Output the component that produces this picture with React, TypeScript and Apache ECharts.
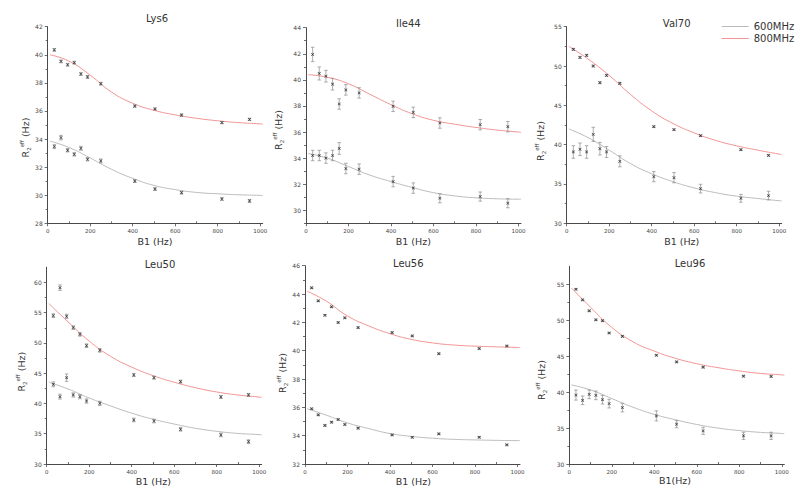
import React, { useEffect, useRef } from 'react';
import * as echarts from 'echarts';

// ---------- data ----------
const B1 = [31.25, 62.5, 93.75, 125, 156.25, 187.5, 250, 410, 505, 630, 820, 950];
const FIT_X = [10, 100, 200, 300, 400, 500, 600, 700, 800, 900, 1000, 1012];

const LYS6_600 = [33.46, 34.10, 33.20, 32.91, 33.34, 32.56, 32.44, 31.01, 30.44, 30.18, 29.73, 29.59];
const LYS6_600_ERR = [0.14, 0.16, 0.12, 0.12, 0.14, 0.12, 0.14, 0.1, 0.1, 0.1, 0.1, 0.1];
const LYS6_600_FIT = [33.85, 33.4, 32.65, 31.85, 31.2, 30.7, 30.4, 30.2, 30.1, 30.03, 29.99, 29.98];
const LYS6_800 = [40.35, 39.53, 39.29, 39.44, 38.63, 38.42, 37.94, 36.35, 36.14, 35.71, 35.17, 35.40];
const LYS6_800_ERR = [0.1, 0.1, 0.1, 0.1, 0.1, 0.1, 0.1, 0.08, 0.08, 0.08, 0.08, 0.08];
const LYS6_800_FIT = [40.0, 39.55, 38.55, 37.35, 36.55, 36.05, 35.72, 35.48, 35.3, 35.17, 35.08, 35.07];

const ILE44_600 = [34.2, 34.2, 34.0, 34.2, 34.74, 33.2, 33.15, 32.2, 31.7, 30.92, 31.05, 30.54];
const ILE44_600_ERR = [0.4, 0.4, 0.4, 0.4, 0.45, 0.4, 0.4, 0.4, 0.4, 0.35, 0.35, 0.35];
const ILE44_600_FIT = [34.35, 34.0, 33.35, 32.7, 32.2, 31.75, 31.35, 31.1, 30.95, 30.88, 30.85, 30.85];
const ILE44_800 = [41.95, 40.49, 40.28, 39.67, 38.15, 39.23, 39.0, 37.97, 37.51, 36.69, 36.56, 36.41];
const ILE44_800_ERR = [0.55, 0.5, 0.45, 0.45, 0.4, 0.4, 0.4, 0.4, 0.4, 0.4, 0.4, 0.4];
const ILE44_800_FIT = [40.4, 40.2, 39.7, 38.9, 38.1, 37.4, 36.9, 36.6, 36.35, 36.15, 36.0, 35.97];

const VAL70_600 = [39.07, 39.41, 39.07, 41.31, 39.49, 39.07, 37.88, 35.93, 35.8, 34.41, 33.18, 33.52];
const VAL70_600_ERR = [0.8, 0.8, 0.8, 0.9, 0.8, 0.7, 0.7, 0.65, 0.65, 0.55, 0.5, 0.55];
const VAL70_600_FIT = [42.0, 40.9, 39.3, 37.6, 36.3, 35.3, 34.5, 33.9, 33.45, 33.15, 32.87, 32.85];
const VAL70_800 = [52.12, 51.1, 51.36, 50.0, 47.88, 48.81, 47.8, 42.29, 41.91, 41.14, 39.36, 38.64];
const VAL70_800_ERR = [0.12, 0.12, 0.12, 0.12, 0.12, 0.12, 0.12, 0.1, 0.1, 0.1, 0.1, 0.1];
const VAL70_800_FIT = [52.5, 50.9, 48.8, 46.4, 44.3, 42.7, 41.5, 40.55, 39.85, 39.3, 38.8, 38.75];

const LEU50_600 = [43.16, 41.12, 44.26, 41.4, 41.12, 40.4, 40.02, 37.27, 37.1, 35.73, 34.8, 33.69];
const LEU50_600_ERR = [0.4, 0.4, 0.6, 0.35, 0.35, 0.35, 0.35, 0.3, 0.3, 0.3, 0.3, 0.3];
const LEU50_600_FIT = [43.5, 42.4, 40.9, 39.6, 38.4, 37.4, 36.6, 35.9, 35.4, 35.05, 34.85, 34.8];
const LEU50_800 = [54.5, 59.12, 54.39, 52.52, 51.41, 49.54, 48.77, 44.7, 44.26, 43.6, 41.07, 41.4];
const LEU50_800_ERR = [0.3, 0.45, 0.35, 0.3, 0.3, 0.3, 0.3, 0.25, 0.25, 0.25, 0.25, 0.25];
const LEU50_800_FIT = [56.5, 53.5, 50.3, 47.8, 46.0, 44.6, 43.5, 42.6, 41.9, 41.4, 41.05, 41.0];

const LEU56_600 = [35.9, 35.47, 34.72, 34.95, 35.14, 34.79, 34.53, 34.05, 33.89, 34.13, 33.89, 33.35];
const LEU56_600_ERR = [0.05, 0.05, 0.05, 0.05, 0.05, 0.05, 0.05, 0.05, 0.05, 0.05, 0.05, 0.05];
const LEU56_600_FIT = [35.9, 35.45, 34.9, 34.5, 34.15, 33.95, 33.82, 33.74, 33.7, 33.67, 33.65, 33.65];
const LEU56_800 = [44.44, 43.52, 42.5, 43.1, 41.99, 42.32, 41.63, 41.28, 41.04, 39.79, 40.15, 40.33];
const LEU56_800_ERR = [0.05, 0.05, 0.05, 0.05, 0.05, 0.05, 0.05, 0.05, 0.05, 0.05, 0.05, 0.05];
const LEU56_800_FIT = [44.2, 43.5, 42.45, 41.75, 41.2, 40.8, 40.55, 40.4, 40.32, 40.27, 40.23, 40.22];

const LEU96_600 = [39.59, 38.86, 39.69, 39.55, 38.95, 38.4, 37.84, 36.69, 35.54, 34.61, 33.92, 33.92];
const LEU96_600_ERR = [0.7, 0.6, 0.6, 0.6, 0.6, 0.6, 0.6, 0.7, 0.5, 0.5, 0.5, 0.5];
const LEU96_600_FIT = [41.0, 40.3, 39.1, 37.9, 36.9, 36.15, 35.5, 35.0, 34.65, 34.4, 34.25, 34.2];
const LEU96_800 = [54.31, 52.83, 51.31, 50.06, 49.93, 48.22, 47.76, 45.13, 44.2, 43.47, 42.22, 42.18];
const LEU96_800_ERR = [0.1, 0.1, 0.1, 0.1, 0.1, 0.1, 0.1, 0.1, 0.1, 0.1, 0.1, 0.1];
const LEU96_800_FIT = [54.5, 51.8, 49.0, 47.0, 45.7, 44.7, 43.95, 43.4, 42.95, 42.6, 42.4, 42.35];

const X_MAJOR = [0, 200, 400, 600, 800, 1000];
const X_MINOR = [100, 300, 500, 700, 900];
const Y_MAJOR_LYS6 = [28, 30, 32, 34, 36, 38, 40, 42];
const Y_MINOR_LYS6 = [29, 31, 33, 35, 37, 39, 41];
const Y_MAJOR_ILE44 = [30, 32, 34, 36, 38, 40, 42, 44];
const Y_MINOR_ILE44 = [29, 31, 33, 35, 37, 39, 41, 43];
const Y_MAJOR_VAL70 = [30, 35, 40, 45, 50, 55];
const Y_MINOR_VAL70 = [32.5, 37.5, 42.5, 47.5, 52.5];
const Y_MAJOR_LEU50 = [30, 35, 40, 45, 50, 55, 60];
const Y_MINOR_LEU50 = [32.5, 37.5, 42.5, 47.5, 52.5, 57.5];
const Y_MAJOR_LEU56 = [32, 34, 36, 38, 40, 42, 44, 46];
const Y_MINOR_LEU56 = [33, 35, 37, 39, 41, 43, 45];
const Y_MAJOR_LEU96 = [30, 35, 40, 45, 50, 55];
const Y_MINOR_LEU96 = [32.5, 37.5, 42.5, 47.5, 52.5];

const LEGEND_600 = '600MHz';
const LEGEND_800 = '800MHz';

// ---------- layout / styling ----------
const FONT = '"DejaVu Sans", Verdana, sans-serif';
const AXIS_COLOR = '#4a4a4a';
const TEXT_COLOR = '#333333';
const GRAY_FIT = '#bcbcbc';
const RED_FIT = '#f29494';
const ERR_COLOR = '#8c8c8c';
const MARK_COLOR = '#1c1c1c';
const X_MAX = 1012;
const MARKER = 'path://M0,1.5L1.5,0L5,3.5L8.5,0L10,1.5L6.5,5L10,8.5L8.5,10L5,6.5L1.5,10L0,8.5L3.5,5Z';

const PANELS = [
  {
    title: 'Lys6', xName: 'B1 (Hz)',
    s600: LYS6_600, e600: LYS6_600_ERR, f600: LYS6_600_FIT,
    s800: LYS6_800, e800: LYS6_800_ERR, f800: LYS6_800_FIT,
    yMin: 28, yMax: 42, yMajor: Y_MAJOR_LYS6, yMinor: Y_MINOR_LYS6,
    grid: { left: 47.7, top: 26.7, width: 215, height: 196.6 },
    titlePos: [157, 18], xNamePos: [155, 241.7], yNamePos: [25.3, 137.5],
  },
  {
    title: 'Ile44', xName: 'B1 (Hz)',
    s600: ILE44_600, e600: ILE44_600_ERR, f600: ILE44_600_FIT,
    s800: ILE44_800, e800: ILE44_800_ERR, f800: ILE44_800_FIT,
    yMin: 29, yMax: 44, yMajor: Y_MAJOR_ILE44, yMinor: Y_MINOR_ILE44,
    grid: { left: 306, top: 27.7, width: 215, height: 195.6 },
    titlePos: [408.3, 23.5], xNamePos: [413.3, 241.7], yNamePos: [278.5, 130],
  },
  {
    title: 'Val70', xName: 'B1 (Hz)',
    s600: VAL70_600, e600: VAL70_600_ERR, f600: VAL70_600_FIT,
    s800: VAL70_800, e800: VAL70_800_ERR, f800: VAL70_800_FIT,
    yMin: 30, yMax: 55, yMajor: Y_MAJOR_VAL70, yMinor: Y_MINOR_VAL70,
    grid: { left: 566.7, top: 26.7, width: 215, height: 196.6 },
    titlePos: [676.7, 23.5], xNamePos: [681.7, 241.7], yNamePos: [540, 141],
  },
  {
    title: 'Leu50', xName: 'B1 (Hz)',
    s600: LEU50_600, e600: LEU50_600_ERR, f600: LEU50_600_FIT,
    s800: LEU50_800, e800: LEU50_800_ERR, f800: LEU50_800_FIT,
    yMin: 30, yMax: 62.5, yMajor: Y_MAJOR_LEU50, yMinor: Y_MINOR_LEU50,
    grid: { left: 46.7, top: 267.2, width: 215, height: 196.8 },
    titlePos: [160, 264.3], xNamePos: [153.3, 481.7], yNamePos: [21.7, 371.7],
  },
  {
    title: 'Leu56', xName: 'B1 (Hz)',
    s600: LEU56_600, e600: LEU56_600_ERR, f600: LEU56_600_FIT,
    s800: LEU56_800, e800: LEU56_800_ERR, f800: LEU56_800_FIT,
    yMin: 32, yMax: 46, yMajor: Y_MAJOR_LEU56, yMinor: Y_MINOR_LEU56,
    grid: { left: 305, top: 265.7, width: 215, height: 198.3 },
    titlePos: [408.3, 263.3], xNamePos: [413.3, 481.7], yNamePos: [282, 373],
  },
  {
    title: 'Leu96', xName: 'B1(Hz)',
    s600: LEU96_600, e600: LEU96_600_ERR, f600: LEU96_600_FIT,
    s800: LEU96_800, e800: LEU96_800_ERR, f800: LEU96_800_FIT,
    yMin: 30, yMax: 57.5, yMajor: Y_MAJOR_LEU96, yMinor: Y_MINOR_LEU96,
    grid: { left: 569.3, top: 266.3, width: 215, height: 197.7 },
    titlePos: [690, 263.3], xNamePos: [675, 480.5], yNamePos: [541, 380],
  },
];

function errRender(params: any, api: any) {
  const x = api.value(0);
  const lo = api.value(1);
  const hi = api.value(2);
  const a = api.coord([x, hi]);
  const b = api.coord([x, lo]);
  const w = 1.8;
  const style = { stroke: ERR_COLOR, lineWidth: 0.7, fill: null };
  return {
    type: 'group',
    children: [
      { type: 'line', shape: { x1: a[0], y1: a[1], x2: b[0], y2: b[1] }, style },
      { type: 'line', shape: { x1: a[0] - w, y1: a[1], x2: a[0] + w, y2: a[1] }, style },
      { type: 'line', shape: { x1: b[0] - w, y1: b[1], x2: b[0] + w, y2: b[1] }, style },
    ],
  };
}

const plainNum = (v: number) => String(v);

function buildOption() {
  const grids: any[] = [];
  const xAxes: any[] = [];
  const yAxes: any[] = [];
  const series: any[] = [];
  const graphics: any[] = [];

  PANELS.forEach((p, i) => {
    grids.push({ ...p.grid, containLabel: false, outerBoundsMode: 'none' });
    const axisLine = { show: true, lineStyle: { color: AXIS_COLOR, width: 1 } };
    xAxes.push({
      gridIndex: i, type: 'value', min: 0, max: X_MAX, position: 'bottom',
      axisLine,
      axisTick: { show: true, customValues: X_MAJOR, length: 3, lineStyle: { color: AXIS_COLOR, width: 0.8 } },
      axisLabel: { show: true, customValues: X_MAJOR, formatter: plainNum, fontSize: 5.5, margin: 5, color: '#444', fontFamily: FONT },
      splitLine: { show: false },
    });
    xAxes.push({
      gridIndex: i, type: 'value', min: 0, max: X_MAX, position: 'bottom', offset: 0,
      axisLine: { show: false },
      axisTick: { show: true, customValues: X_MINOR, length: 2, inside: true, lineStyle: { color: AXIS_COLOR, width: 0.8 } },
      axisLabel: { show: false },
      splitLine: { show: false },
    });
    yAxes.push({
      gridIndex: i, type: 'value', min: p.yMin, max: p.yMax, position: 'left',
      axisLine,
      axisTick: { show: true, customValues: p.yMajor, length: 3, lineStyle: { color: AXIS_COLOR, width: 0.8 } },
      axisLabel: { show: true, customValues: p.yMajor, formatter: plainNum, fontSize: 6, margin: 5, color: '#444', fontFamily: FONT },
      splitLine: { show: false },
    });
    yAxes.push({
      gridIndex: i, type: 'value', min: p.yMin, max: p.yMax, position: 'left', offset: 0,
      axisLine: { show: false },
      axisTick: { show: true, customValues: p.yMinor, length: 2, lineStyle: { color: AXIS_COLOR, width: 0.8 } },
      axisLabel: { show: false },
      splitLine: { show: false },
    });

    const xi = 2 * i;
    const yi = 2 * i;
    const fitSeries = (name: string, fit: number[], color: string) => ({
      name, type: 'line', xAxisIndex: xi, yAxisIndex: yi,
      data: FIT_X.map((x, j) => [x, fit[j]]),
      smooth: 0.5, showSymbol: false, symbol: 'none',
      lineStyle: { color, width: 1 }, itemStyle: { color },
      z: 2, silent: true,
    });
    series.push(fitSeries(LEGEND_600, p.f600, GRAY_FIT));
    series.push(fitSeries(LEGEND_800, p.f800, RED_FIT));

    const errSeries = (vals: number[], errs: number[]) => ({
      type: 'custom', xAxisIndex: xi, yAxisIndex: yi,
      data: B1.map((x, j) => [x, vals[j] - errs[j], vals[j] + errs[j]]),
      encode: { x: 0, y: [1, 2] },
      renderItem: errRender, z: 3, silent: true,
    });
    series.push(errSeries(p.s600, p.e600));
    series.push(errSeries(p.s800, p.e800));

    const pts = (vals: number[]) => ({
      type: 'scatter', xAxisIndex: xi, yAxisIndex: yi,
      data: B1.map((x, j) => [x, vals[j]]),
      symbol: MARKER, symbolSize: 3.2,
      itemStyle: { color: MARK_COLOR }, z: 4, silent: true,
    });
    series.push(pts(p.s600));
    series.push(pts(p.s800));

    graphics.push({
      type: 'text', x: p.titlePos[0], y: p.titlePos[1], silent: true,
      style: { text: p.title, fontSize: 10, fontFamily: FONT, fill: TEXT_COLOR, align: 'center', verticalAlign: 'middle' },
    });
    graphics.push({
      type: 'text', x: p.xNamePos[0], y: p.xNamePos[1], silent: true,
      style: { text: p.xName, fontSize: 9.5, fontFamily: FONT, fill: TEXT_COLOR, align: 'center', verticalAlign: 'middle' },
    });
    graphics.push({
      type: 'text', x: p.yNamePos[0], y: p.yNamePos[1], rotation: Math.PI / 2, silent: true,
      style: {
        text: '{m|R}{s|2}{p|eff}{m| (Hz)}',
        align: 'center', verticalAlign: 'middle', fill: TEXT_COLOR,
        rich: {
          m: { fontSize: 9.5, fontFamily: FONT, fill: TEXT_COLOR },
          s: { fontSize: 5.5, fontFamily: FONT, fill: TEXT_COLOR, padding: [7, 0, 0, 0] },
          p: { fontSize: 5.5, fontFamily: FONT, fill: TEXT_COLOR, padding: [0, 0, 7, 0] },
        },
      },
    });
  });

  return {
    animation: false,
    backgroundColor: '#ffffff',
    textStyle: { fontFamily: FONT },
    legend: {
      data: [LEGEND_600, LEGEND_800],
      orient: 'vertical', left: 721.7, top: 20.5, padding: 0,
      itemWidth: 27, itemHeight: 1, icon: 'rect', itemGap: 0,
      selectedMode: false,
      textStyle: { fontFamily: FONT, fontSize: 10, color: TEXT_COLOR, lineHeight: 12 },
    },
    grid: grids,
    xAxis: xAxes,
    yAxis: yAxes,
    series,
    graphic: graphics,
  };
}

export default function App() {
  const ref = useRef<HTMLDivElement>(null);
  useEffect(() => {
    if (!ref.current) return;
    const chart = echarts.init(ref.current, null, { renderer: 'svg' });
    chart.setOption(buildOption() as any);
    return () => chart.dispose();
  }, []);
  return (
    <div
      ref={ref}
      style={{ position: 'fixed', left: 0, top: 0, width: 800, height: 497, background: '#fff' }}
    />
  );
}
